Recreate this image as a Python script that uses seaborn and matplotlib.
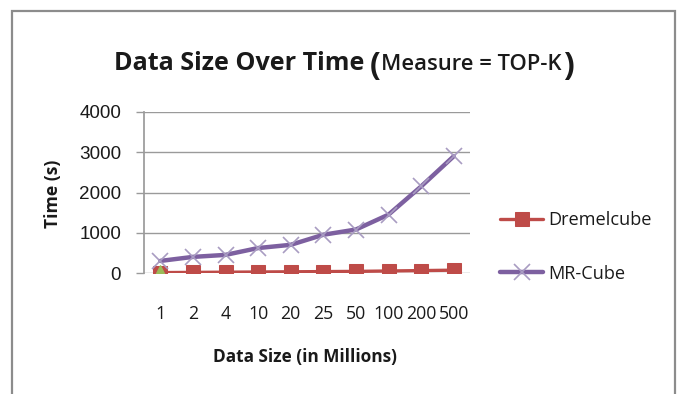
import numpy as np
import pandas as pd
import matplotlib
matplotlib.use("Agg")
import matplotlib.pyplot as plt
import matplotlib.patches as mpatches
import seaborn as sns

sizes = ["1", "2", "4", "10", "20", "25", "50", "100", "200", "500"]
dremelcube = [10, 15, 20, 25, 30, 35, 40, 50, 60, 70]
mrcube = [300, 400, 450, 620, 700, 950, 1080, 1450, 2150, 2900]
third_x = ["1"]
third_y = [0]
yticks = [0, 1000, 2000, 3000, 4000]

dpi = 100
W, H = 681, 394
sns.set_theme(style="white")
plt.rcParams["font.family"] = ["Open Sans", "DejaVu Sans"]
ink = "#1a1a1a"

df = pd.DataFrame({"size": sizes * 2,
                   "time": dremelcube + mrcube,
                   "series": ["Dremelcube"] * len(sizes) + ["MR-Cube"] * len(sizes)})

fig = plt.figure(figsize=(W / dpi, H / dpi), dpi=dpi)
fig.patch.set_facecolor("white")
ax = fig.add_axes([144 / W, 1 - 273 / H, 326 / W, 161 / H])
fig.canvas.draw()
r = fig.canvas.get_renderer()

def fit(txt, px, **kw):
    # font size that makes txt about px pixels wide
    t = fig.text(0, 0, txt, fontsize=10, **kw)
    w = t.get_window_extent(r).width
    t.remove()
    return 10 * px / w

red = "#BE4B48"
purple = "#7D60A0"
sns.lineplot(data=df[df.series == "Dremelcube"], x="size", y="time", ax=ax,
             color=red, lw=2.4, marker="s", markersize=10.5, markeredgecolor=red,
             label="Dremelcube", sort=False)
sns.lineplot(data=df[df.series == "MR-Cube"], x="size", y="time", ax=ax,
             color=purple, lw=3.2, marker="x", markersize=12, markeredgewidth=1.2,
             markeredgecolor="#A99CC2", label="MR-Cube", sort=False)
sns.lineplot(x=third_x, y=third_y, ax=ax, color="#9BBB59", marker="^",
             markersize=11, markeredgecolor="#9BBB59", lw=0, legend=False)

ax.set_xlim(-0.5, len(sizes) - 0.5)
ax.set_ylim(0, 4000)
ys = fit("4000", 42, family="Liberation Sans")
ax.set_yticks(yticks, [str(v) for v in yticks], fontfamily="Liberation Sans",
              fontsize=ys, color=ink)
xs = fit("100200500", 92)
ax.set_xticks(range(len(sizes)), sizes, fontsize=xs, color=ink)
ax.grid(axis="y", color="#9a9a9a", lw=1)
ax.set_axisbelow(True)
for s in ["top", "right", "bottom"]:
    ax.spines[s].set_visible(False)
ax.spines["left"].set_color("#9a9a9a")
ax.tick_params(axis="y", left=True, length=6, color="#9a9a9a", width=1, pad=10.5)
ax.tick_params(axis="x", bottom=False, length=0, pad=23)
ax.set_xlabel("")
ax.set_ylabel("")

ls = fit("Dremelcube", 103)
fig.text(305 / W, 1 - 357 / H, "Data Size (in Millions)", ha="center", va="center",
         fontsize=fit("Data Size (in Millions)", 184, weight="bold"), weight="bold", color=ink)
fig.text(53 / W, 1 - 194 / H, "Time (s)", ha="center", va="center", rotation=90,
         fontsize=fit("Time (s)", 68, weight="bold"), weight="bold", color=ink)

fpx = ls * dpi / 72
ax.legend(loc="center left", bbox_to_anchor=(500 / W, 1 - 247 / H),
          bbox_transform=fig.transFigure, frameon=False, fontsize=ls,
          handlelength=43 / fpx, handletextpad=5 / fpx,
          labelspacing=(60 - 1.36 * fpx) / fpx, borderpad=0,
          borderaxespad=0, labelcolor=ink)

# title in pieces: big text, tall parentheses, smaller measure text
x = 114
base = 1 - 70 / H
pieces = [("Data Size Over Time", fit("Data Size Over Time", 250, weight="bold"), base, 5, "bold"),
          ("(", 23, base - 5 / H, 1, "bold"),
          ("Measure = TOP-K", fit("Measure = TOP-K", 180, weight="semibold"), base, 1, "semibold"),
          (")", 23, base - 5 / H, 0, "bold")]
for txt, fs, y, gap, wt in pieces:
    t = fig.text(x / W, y, txt, fontsize=fs, weight=wt, va="baseline", ha="left", color=ink)
    x = t.get_window_extent(r).x1 + gap

fig.patches.append(mpatches.Rectangle((12 / W, -0.05), 663 / W, 1.05 - 11 / H,
                                      transform=fig.transFigure, fill=False,
                                      edgecolor="#8c8c8c", lw=1.6))

fig.savefig("out.png", dpi=dpi)
